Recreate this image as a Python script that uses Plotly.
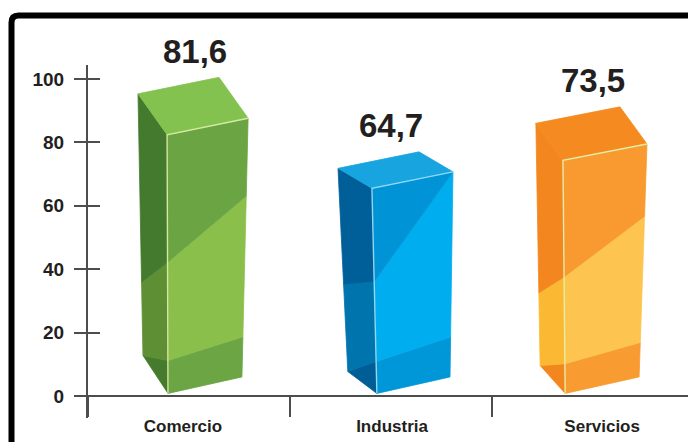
import plotly.graph_objects as go

# ---- data ----
categories = ["Comercio", "Industria", "Servicios"]
values = [81.6, 64.7, 73.5]
y_ticks = [0, 20, 40, 60, 80, 100]

# ---- prism styling (shape of each 3D column, in axis units) ----
top_shift = [0.092, 0.106, 0.059]        # front face centre (top) vs category index
bottom_shift = [0.079, 0.111, 0.045]     # front face centre (bottom)
half_top = [0.2005, 0.2005, 0.208]
half_bottom = [0.183, 0.181, 0.183]
base_left, base_right = 0.8, 6.0         # tilted floor of the front face
depth_top = [(-0.144, 12.9), (-0.168, 6.3), (-0.134, 11.7)]
depth_bottom = [(-0.124, 12.0), (-0.144, 6.9), (-0.124, 8.8)]
diag = [(0.507, 0.70, 0.28), (0.546, 1.0, 0.43), (0.50, 0.69, 0.30)]
band = [(0.127, 0.155), (0.156, 0.195), (0.127, 0.148)]
label_pos = [-0.03, 1.005, 2.045]        # category label placement
value_shift = [0.03, 0.0, 0.0]           # value label nudge
palettes = [
    dict(top="#84C250", fa="#6AA443", fb="#8BBF4C", fc="#6BA544",
         ld="#447A2D", le="#5F8F35", lf="#467B2D", hi="#D5E8A0"),
    dict(top="#18A4DF", fa="#0093D5", fb="#00AEEF", fc="#0097D9",
         ld="#005F99", le="#0074AD", lf="#005D96", hi="#8FD8F6"),
    dict(top="#F58B20", fa="#F89A30", fb="#FDC44F", fc="#F89B31",
         ld="#F3861F", le="#FBB933", lf="#F3871F", hi="#E4EEA8"),
]

INK = "#231F20"
AXIS = "#4D4D4D"
FONT = "Liberation Sans, Arial, sans-serif"


def lerp(p, q, t):
    return (p[0] + (q[0] - p[0]) * t, p[1] + (q[1] - p[1]) * t)


def poly(pts, color):
    xs = [p[0] for p in pts] + [pts[0][0]]
    ys = [p[1] for p in pts] + [pts[0][1]]
    return go.Scatter(x=xs, y=ys, fill="toself", fillcolor=color, mode="lines",
                      line=dict(color=color, width=0.8), hoverinfo="skip",
                      showlegend=False)


def edge(pts, color):
    return go.Scatter(x=[p[0] for p in pts], y=[p[1] for p in pts], mode="lines",
                      line=dict(color=color, width=1.4), hoverinfo="skip",
                      showlegend=False)


fig = go.Figure()
annotations = []

for i, (cat, v) in enumerate(zip(categories, values)):
    pal = palettes[i]
    ct, cb = i + top_shift[i], i + bottom_shift[i]
    BL = (cb - half_bottom[i], base_left)
    BR = (cb + half_bottom[i], base_right)
    TL = (ct - half_top[i], base_left + v)
    TR = (ct + half_top[i], base_right + v)
    (dxt, dyt), (dxb, dyb) = depth_top[i], depth_bottom[i]
    BTL = (TL[0] + dxt, TL[1] + dyt)
    BTR = (TR[0] + dxt, TR[1] + dyt)
    BBL = (BL[0] + dxb, BL[1] + dyb)

    def fp(u, t):
        return lerp(lerp(BL, BR, u), lerp(TL, TR, u), t)

    def lp(s, t):
        return lerp(lerp(BBL, BL, s), lerp(BTL, TL, s), t)

    dl, dr, dback = diag[i]
    bl, br = band[i]

    # front face
    fig.add_trace(poly([BL, BR, fp(1, br), fp(0, bl)], pal["fc"]))
    fig.add_trace(poly([fp(0, bl), fp(1, br), fp(1, dr), fp(0, dl)], pal["fb"]))
    fig.add_trace(poly([fp(0, dl), fp(1, dr), TR, TL], pal["fa"]))
    # left face
    fig.add_trace(poly([BBL, BL, lp(1, bl)], pal["lf"]))
    fig.add_trace(poly([BBL, lp(1, bl), lp(1, dl), lp(0, dback)], pal["le"]))
    fig.add_trace(poly([lp(0, dback), lp(1, dl), TL, BTL], pal["ld"]))
    # top face
    fig.add_trace(poly([TL, TR, BTR, BTL], pal["top"]))
    # light edges
    fig.add_trace(edge([BL, TL, TR], pal["hi"]))

    label = f"{v:.1f}".replace(".", ",")
    annotations.append(dict(
        x=i + value_shift[i], y=BTR[1], xref="x", yref="y", text=label,
        showarrow=False, yanchor="middle", xanchor="center", yshift=26,
        font=dict(family=FONT, size=33, color=INK, weight="bold")))

# frame around the chart
L, T = 88, 65
PW, PH = 600, 353
x0 = (11.5 - L) / PW
ytop = (418 - 15.5) / PH
rx, ry = 7 / PW, 7 / PH
frame = dict(
    type="path", xref="paper", yref="paper",
    path=(f"M {x0},-0.3 L {x0},{ytop - ry} Q {x0},{ytop} {x0 + rx},{ytop} "
          f"L 1.1,{ytop}"),
    line=dict(color="black", width=6), layer="above")

zero_pos = (418 - 396) / PH

fig.update_layout(
    width=688, height=442,
    margin=dict(l=L, r=0, t=T, b=442 - 418, pad=0),
    paper_bgcolor="white", plot_bgcolor="white",
    showlegend=False,
    shapes=[frame],
    annotations=annotations,
    xaxis=dict(range=[-0.5, 2.47], anchor="free", position=zero_pos,
               tickvals=[-0.5, 0.5, 1.5], ticks="outside", ticklen=20,
               tickwidth=2, tickcolor=AXIS, showticklabels=False,
               showline=False, showgrid=False, zeroline=False, fixedrange=True),
    xaxis2=dict(range=[-0.5, 2.47], overlaying="x", anchor="free",
                position=zero_pos, tickvals=label_pos, ticktext=categories,
                ticks="outside", ticklen=15, tickcolor="rgba(0,0,0,0)",
                tickfont=dict(family=FONT, size=17, color=INK, weight="bold"),
                showline=False, showgrid=False, zeroline=False),
    yaxis=dict(range=[-6.95, 104.4], tickvals=y_ticks, ticks="outside",
               ticklen=12, tickwidth=2, tickcolor=AXIS, showline=True,
               linecolor=AXIS, linewidth=2, showgrid=False, zeroline=True,
               zerolinecolor=AXIS, zerolinewidth=2,
               tickfont=dict(family=FONT, size=19, color=INK, weight="bold"),
               ticklabelstandoff=6, fixedrange=True),
    yaxis2=dict(range=[-6.95, 104.4], overlaying="y", anchor="x", side="left",
                tickvals=y_ticks, ticks="inside", ticklen=12, tickwidth=2,
                tickcolor=AXIS, showticklabels=False, showline=False,
                showgrid=False, zeroline=False),
)

# an invisible trace keeps the overlay axes active
fig.add_trace(go.Scatter(x=[0], y=[0], xaxis="x2", yaxis="y2", mode="markers",
                         marker=dict(opacity=0), hoverinfo="skip",
                         showlegend=False))

fig.write_html("out.html")
